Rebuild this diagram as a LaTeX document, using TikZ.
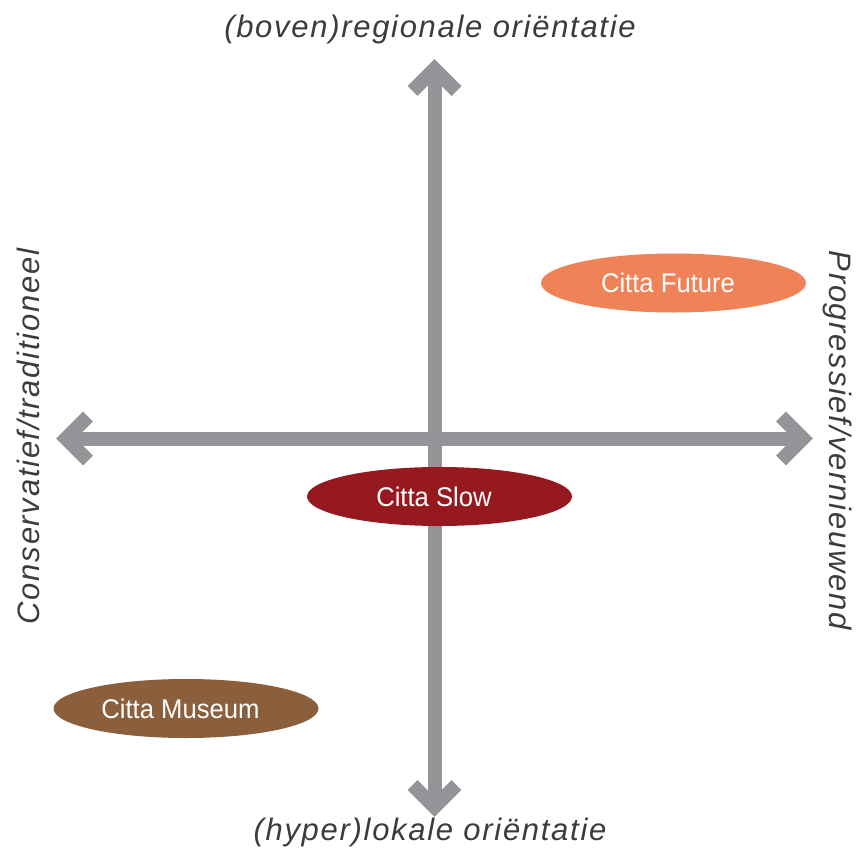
\documentclass[tikz,border=0pt]{standalone}
\usepackage{fontspec}
\setmainfont{Liberation Sans}
\usepackage{graphicx}
\usetikzlibrary{shapes.geometric,calc}
\definecolor{axisgray}{HTML}{939598}
\definecolor{txtgray}{HTML}{3C3C3C}
\definecolor{futurec}{HTML}{F08258}
\definecolor{slowc}{HTML}{95191E}
\definecolor{museumc}{HTML}{8B5E3C}
\newcommand{\blobtext}[1]{\hspace*{-11pt}\scalebox{0.95}[1]{#1}}
\begin{document}
\begin{tikzpicture}[x=1pt,y=-1pt,
  axisline/.style={draw=axisgray,line width=14pt,line join=miter,line cap=butt},
  axislabel/.style={text=txtgray,font=\fontsize{31}{36}\selectfont\itshape\addfontfeature{LetterSpace=5.5},inner sep=0pt},
  cityblob/.style={ellipse,minimum width=265pt,minimum height=59pt,inner sep=0pt,text=white,font=\fontsize{27}{32}\selectfont}]
\useasboundingbox[fill=white] (0,0) rectangle (859,848);
% axis end points (path vertices of the chevrons)
\coordinate (T) at (434.5,69);
\coordinate (B) at (434.5,807);
\coordinate (L) at (66,438.5);
\coordinate (R) at (803,438.5);
\draw[axisline] (B) -- (T);
\draw[axisline] (L) -- (R);
\draw[axisline] ($(T)+(-22,22)$) -- (T) -- ($(T)+(22,22)$);
\draw[axisline] ($(B)+(-22,-22)$) -- (B) -- ($(B)+(22,-22)$);
\draw[axisline] ($(L)+(22,-22)$) -- (L) -- ($(L)+(22,22)$);
\draw[axisline] ($(R)+(-22,-22)$) -- (R) -- ($(R)+(-22,22)$);
% labels
\node[axislabel,anchor=base] (top) at (430,38) {(boven)regionale oriëntatie};
\node[axislabel,anchor=base] (bottom) at (430,840) {(hyper)lokale oriëntatie};
\node[axislabel,rotate=90] (left) at (28,436.5) {Conservatief/traditioneel};
\node[axislabel,rotate=-90] (right) at (838,440) {Progressief/vernieuwend};
% ellipses
\node[cityblob,fill=futurec] (future) at (673.5,283) {\blobtext{Citta Future}};
\node[cityblob,fill=slowc] (slow) at (439.5,496.5) {\blobtext{Citta Slow}};
\node[cityblob,fill=museumc] (museum) at (186,708.5) {\blobtext{Citta Museum}};
\end{tikzpicture}
\end{document}
